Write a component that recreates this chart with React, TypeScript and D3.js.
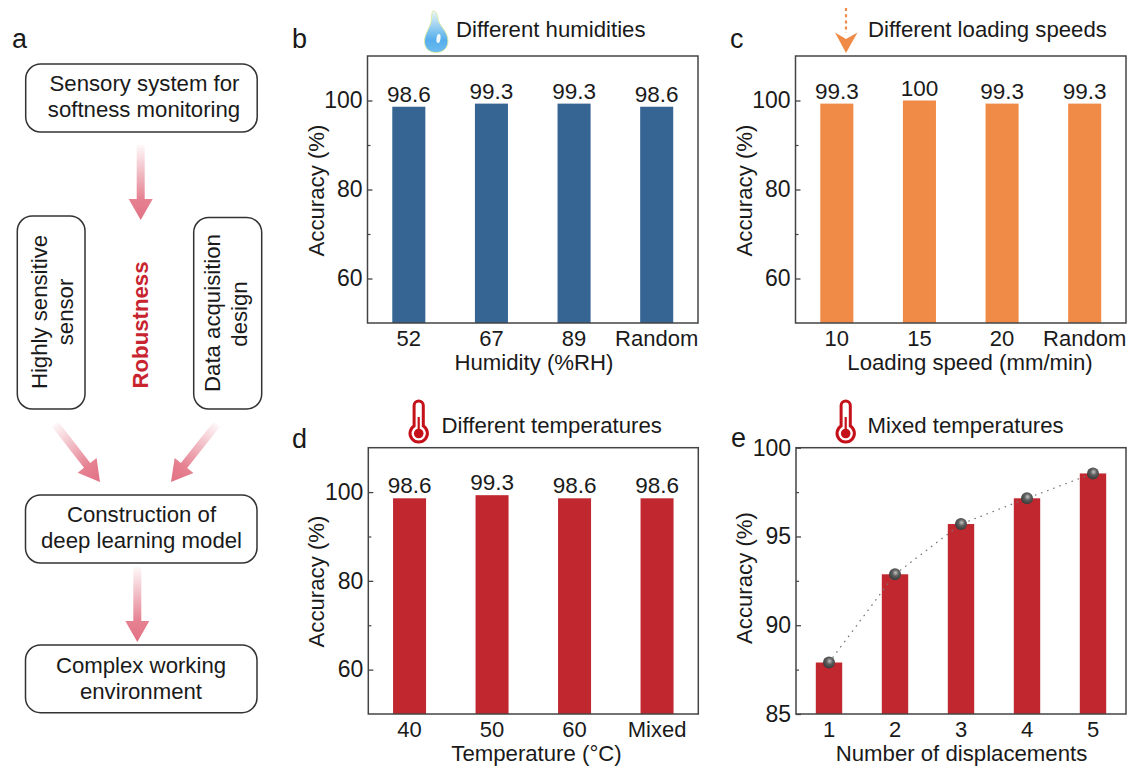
import React, { useEffect, useRef } from 'react';
import * as d3 from 'd3';

const FONT = '"Liberation Sans", Arial, sans-serif';
const INK = '#1a1a1a';
const BLUE = '#366594';
const ORANGE = '#f08a47';
const RED = '#c1272f';

const humidityLabels = ['52', '67', '89', 'Random'];
const humidityValues = [98.6, 99.3, 99.3, 98.6];
const speedLabels = ['10', '15', '20', 'Random'];
const speedValues = [99.3, 100, 99.3, 99.3];
const temperatureLabels = ['40', '50', '60', 'Mixed'];
const temperatureValues = [98.6, 99.3, 98.6, 98.6];
const displacementLabels = ['1', '2', '3', '4', '5'];
const displacementValues = [87.9, 92.87, 95.7, 97.15, 98.55];

const accuracyDomain = [50, 110];
const accuracyTicks = [60, 80, 100];
const accuracyMinorTicks = [70, 90];
const mixedDomain = [85, 100];
const mixedTicks = [85, 90, 95, 100];
const mixedMinorTicks = [87.5, 92.5, 97.5];

type PanelProps = {
  frame: { x: number; y: number; w: number; h: number };
  labels: string[];
  values: number[];
  domain: number[];
  ticks: number[];
  minorTicks: number[];
  color: string;
  xTitle: string;
  xTitleX: number;
  yTitleX: number;
  yTitleY: number;
  showValues?: boolean;
  showTrend?: boolean;
};

function BarPanel(p: PanelProps) {
  const ref = useRef<SVGGElement>(null);

  useEffect(() => {
    const { x, y, w, h } = p.frame;
    const g = d3.select(ref.current);
    g.selectAll('*').remove();

    const xScale = d3.scaleBand().domain(p.labels).range([x, x + w]).paddingInner(0.6).paddingOuter(0.3);
    const yScale = d3.scaleLinear().domain(p.domain).range([y + h, y]);

    g.append('g')
      .selectAll('rect')
      .data(p.values)
      .join('rect')
      .attr('x', (_, i) => xScale(p.labels[i]))
      .attr('y', d => yScale(d))
      .attr('width', xScale.bandwidth())
      .attr('height', d => y + h - yScale(d))
      .attr('fill', p.color);

    if (p.showValues) {
      g.append('g')
        .selectAll('text')
        .data(p.values)
        .join('text')
        .attr('x', (_, i) => xScale(p.labels[i]) + xScale.bandwidth() / 2)
        .attr('y', d => yScale(d) - 5)
        .attr('text-anchor', 'middle')
        .attr('font-size', 22.5)
        .attr('fill', INK)
        .text(d => String(d));
    }

    if (p.showTrend) {
      const pts: [number, number][] = p.values.map((d, i) => [
        xScale(p.labels[i]) + xScale.bandwidth() / 2,
        yScale(d),
      ]);
      g.append('path')
        .attr('d', d3.line()(pts))
        .attr('fill', 'none')
        .attr('stroke', '#777')
        .attr('stroke-width', 1.3)
        .attr('stroke-linecap', 'round')
        .attr('stroke-dasharray', '0.5 6');
      g.append('g')
        .selectAll('circle')
        .data(pts)
        .join('circle')
        .attr('cx', d => d[0])
        .attr('cy', d => d[1])
        .attr('r', 6)
        .attr('fill', 'url(#sphere)');
    }

    // frame goes over the bars
    g.append('rect')
      .attr('x', x).attr('y', y).attr('width', w).attr('height', h)
      .attr('fill', 'none')
      .attr('stroke', '#444')
      .attr('stroke-width', 1.5);

    const yAxis = d3.axisLeft(yScale)
      .tickValues(p.ticks)
      .tickSizeInner(-5)
      .tickSizeOuter(0)
      .tickPadding(5);
    const yG = g.append('g').attr('transform', `translate(${x},0)`).call(yAxis);
    yG.select('.domain').remove();
    yG.selectAll('line').attr('stroke', '#444').attr('stroke-width', 1.3);
    yG.selectAll('text').attr('font-size', 23).attr('font-family', FONT).attr('fill', INK);

    const minorAxis = d3.axisLeft(yScale)
      .tickValues(p.minorTicks)
      .tickSizeInner(-3)
      .tickSizeOuter(0)
      .tickFormat(() => '');
    const minorG = g.append('g').attr('transform', `translate(${x},0)`).call(minorAxis);
    minorG.select('.domain').remove();
    minorG.selectAll('line').attr('stroke', '#444').attr('stroke-width', 1.2);

    const xAxis = d3.axisBottom(xScale).tickSize(0).tickPadding(7);
    const xG = g.append('g').attr('transform', `translate(0,${y + h})`).call(xAxis);
    xG.select('.domain').remove();
    xG.selectAll('text').attr('font-size', 22).attr('font-family', FONT).attr('fill', INK);

    g.append('text')
      .attr('x', p.xTitleX)
      .attr('y', y + h + 46.5)
      .attr('text-anchor', 'middle')
      .attr('font-size', 22.2)
      .attr('fill', INK)
      .text(p.xTitle);

    g.append('text')
      .attr('transform', `translate(${p.yTitleX},${p.yTitleY}) rotate(-90)`)
      .attr('text-anchor', 'middle')
      .attr('font-size', 22.2)
      .attr('fill', INK)
      .text('Accuracy (%)');
  }, []);

  return <g ref={ref} />;
}

function FlowBox({ x, y, w, h }: { x: number; y: number; w: number; h: number }) {
  return <rect x={x} y={y} width={w} height={h} rx={15} fill="#fff" stroke="#333" strokeWidth={1.5} />;
}

// pale-to-pink arrow, from tail (x1,y1) to tip (x2,y2)
function FadeArrow({ x1, y1, x2, y2, id }: { x1: number; y1: number; x2: number; y2: number; id: string }) {
  const len = Math.hypot(x2 - x1, y2 - y1);
  const angle = (Math.atan2(y2 - y1, x2 - x1) * 180) / Math.PI;
  const head = 21;
  return (
    <g transform={`translate(${x1},${y1}) rotate(${angle})`}>
      <defs>
        <linearGradient id={id} gradientUnits="userSpaceOnUse" x1={0} y1={0} x2={len} y2={0}>
          <stop offset="0" stopColor="#e47b8c" stopOpacity={0.05} />
          <stop offset="0.72" stopColor="#e47b8c" stopOpacity={0.95} />
          <stop offset="1" stopColor="#e27184" />
        </linearGradient>
      </defs>
      <path
        d={`M0,-4 L${len - head},-4 L${len - head},-12 L${len},0 L${len - head},12 L${len - head},4 L0,4 Z`}
        fill={`url(#${id})`}
      />
    </g>
  );
}

function Thermometer({ cx }: { cx: number }) {
  return (
    <g transform={`translate(${cx},0)`}>
      <path
        d="M-4.6,426 L-4.6,405.5 A4.6,4.6 0 0 1 4.6,405.5 L4.6,426 A8.7,8.7 0 1 1 -4.6,426 Z"
        fill="#fff"
        stroke="#c5121a"
        strokeWidth={3}
      />
      <line x1={0} x2={0} y1={417} y2={432} stroke="#c5121a" strokeWidth={2.2} />
      <circle cy={433.5} r={4.8} fill="#c5121a" />
    </g>
  );
}

function Droplet() {
  return (
    <g>
      <path
        d="M433,11 C436,11 437.5,14 438,19 C439,26 448,31 448,41 C448,48 443,52.5 436,52.5 C429,52.5 424.5,48 424.5,41.5 C424.5,33 431,27 431.5,19 C431.7,15 432,11 433,11 Z"
        fill="url(#drop)"
        stroke="#dbeaa6"
        strokeWidth={1}
      />
      <ellipse cx={438.5} cy={38.5} rx={2} ry={4.5} fill="#f0f8fd" transform="rotate(8 438.5 38.5)" />
    </g>
  );
}

function SpeedArrow() {
  return (
    <g>
      <line x1={846} x2={846} y1={8} y2={33} stroke={ORANGE} strokeWidth={2.2} strokeDasharray="3 3.2" />
      <path d="M835,32.5 L846,39 L857.5,32.5 L846,53 Z" fill={ORANGE} />
    </g>
  );
}

const panelLetters = [
  { t: 'a', x: 12, y: 47.5 },
  { t: 'b', x: 292, y: 47.5 },
  { t: 'c', x: 730, y: 47.5 },
  { t: 'd', x: 292, y: 448 },
  { t: 'e', x: 731, y: 447 },
];

const panelTitles = [
  { t: 'Different humidities', x: 456, y: 36.7 },
  { t: 'Different loading speeds', x: 868, y: 36.7 },
  { t: 'Different temperatures', x: 441.5, y: 432.7 },
  { t: 'Mixed temperatures', x: 867.5, y: 432.7 },
];

export default function App() {
  return (
    <svg
      width={1129}
      height={768}
      viewBox="0 0 1129 768"
      style={{ position: 'absolute', left: 0, top: 0, display: 'block', background: '#fff' }}
      fontFamily={FONT}
    >
      <defs>
        <radialGradient id="sphere" cx="0.55" cy="0.38" r="0.6">
          <stop offset="0" stopColor="#c4c4c4" />
          <stop offset="0.45" stopColor="#5e5e5e" />
          <stop offset="1" stopColor="#3b3b3b" />
        </radialGradient>
        <linearGradient id="drop" x1="0" y1="0" x2="0" y2="1">
          <stop offset="0" stopColor="#eef7f5" />
          <stop offset="0.4" stopColor="#93cdf1" />
          <stop offset="0.7" stopColor="#55aeec" />
          <stop offset="1" stopColor="#6cbcf0" />
        </linearGradient>
      </defs>

      {/* a: flow chart */}
      <FlowBox x={25.7} y={64} w={231.5} h={68} />
      <FlowBox x={17.3} y={216} w={67.7} h={193} />
      <FlowBox x={193.7} y={217.5} w={68} h={191.5} />
      <FlowBox x={25.5} y={495} w={231.5} h={68} />
      <FlowBox x={25.5} y={645} w={231.5} h={67.7} />

      <FadeArrow id="a1" x1={140.7} y1={145} x2={140.7} y2={220} />
      <FadeArrow id="a2" x1={55} y1={424} x2={100} y2={482} />
      <FadeArrow id="a3" x1={217} y1={424} x2={171} y2={482} />
      <FadeArrow id="a4" x1={137.3} y1={567} x2={137.3} y2={642} />

      <g fontSize={22.2} fill={INK} textAnchor="middle">
        <text x={144.5} y={90.5}>Sensory system for</text>
        <text x={144} y={117}>softness monitoring</text>
        <text x={141.5} y={521.5}>Construction of</text>
        <text x={141.5} y={548}>deep learning model</text>
        <text x={141} y={673}>Complex working</text>
        <text x={141} y={699}>environment</text>
        <text transform="translate(47,312) rotate(-90)">Highly sensitive</text>
        <text transform="translate(73,312) rotate(-90)">sensor</text>
        <text transform="translate(220,313) rotate(-90)">Data acquisition</text>
        <text transform="translate(247,314) rotate(-90)">design</text>
      </g>
      <text
        transform="translate(148,325) rotate(-90)"
        fontSize={22.2}
        fontWeight="bold"
        fill="#c8242f"
        textAnchor="middle"
      >
        Robustness
      </text>

      {panelLetters.map(d => (
        <text key={d.t} x={d.x} y={d.y} fontSize={27} fill={INK}>{d.t}</text>
      ))}
      {panelTitles.map(d => (
        <text key={d.t} x={d.x} y={d.y} fontSize={22.2} fill={INK}>{d.t}</text>
      ))}

      <Droplet />
      <SpeedArrow />
      <Thermometer cx={418.7} />
      <Thermometer cx={845.7} />

      <BarPanel
        frame={{ x: 367.5, y: 56, w: 330.5, h: 267 }}
        labels={humidityLabels}
        values={humidityValues}
        domain={accuracyDomain}
        ticks={accuracyTicks}
        minorTicks={accuracyMinorTicks}
        color={BLUE}
        xTitle="Humidity (%RH)"
        xTitleX={534}
        yTitleX={324}
        yTitleY={190.5}
        showValues
      />
      <BarPanel
        frame={{ x: 795.5, y: 56, w: 330.5, h: 267 }}
        labels={speedLabels}
        values={speedValues}
        domain={accuracyDomain}
        ticks={accuracyTicks}
        minorTicks={accuracyMinorTicks}
        color={ORANGE}
        xTitle="Loading speed (mm/min)"
        xTitleX={970}
        yTitleX={752}
        yTitleY={190.5}
        showValues
      />
      <BarPanel
        frame={{ x: 368.3, y: 447.7, w: 330, h: 266.3 }}
        labels={temperatureLabels}
        values={temperatureValues}
        domain={accuracyDomain}
        ticks={accuracyTicks}
        minorTicks={accuracyMinorTicks}
        color={RED}
        xTitle="Temperature (°C)"
        xTitleX={536.5}
        yTitleX={324}
        yTitleY={581.5}
        showValues
      />
      <BarPanel
        frame={{ x: 796, y: 447.7, w: 330, h: 266.3 }}
        labels={displacementLabels}
        values={displacementValues}
        domain={mixedDomain}
        ticks={mixedTicks}
        minorTicks={mixedMinorTicks}
        color={RED}
        xTitle="Number of displacements"
        xTitleX={961.5}
        yTitleX={752}
        yTitleY={578}
        showTrend
      />
    </svg>
  );
}
